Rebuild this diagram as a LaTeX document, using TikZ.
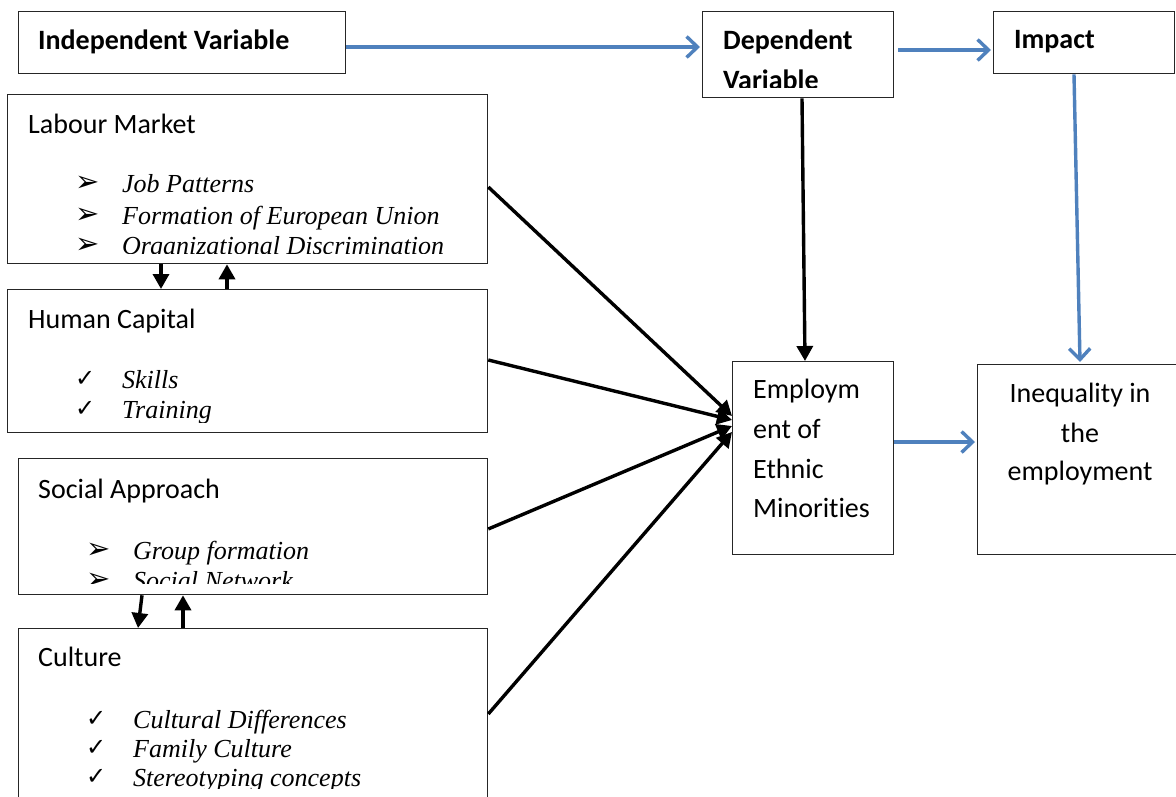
\documentclass[tikz,border=0pt]{standalone}
\usepackage{fontspec}
\setmainfont{Carlito}[Ligatures=NoCommon]
\newfontfamily\tms{Liberation Serif}
\newfontfamily\sym{DejaVu Sans}
\usetikzlibrary{arrows.meta}
\definecolor{arrblue}{HTML}{4F81BD}
\begin{document}
\begin{tikzpicture}[x=1pt,y=-1pt,
 box/.style={draw=black!85,line width=1.3pt,inner sep=0pt,anchor=north west},
 hd/.style={anchor=base west,inner sep=0pt,font=\fontsize{28}{34}\selectfont},
 hdb/.style={anchor=base west,inner sep=0pt,font=\fontsize{28}{34}\selectfont\bfseries},
 hdc/.style={anchor=base,inner sep=0pt,font=\fontsize{28}{34}\selectfont},
 itm/.style={anchor=base west,inner sep=0pt,font=\fontsize{26}{30}\selectfont\tms\itshape},
 arw/.style={anchor=base west,inner sep=0pt,font=\fontsize{29}{30}\selectfont\sym},
 chk/.style={anchor=base west,inner sep=0pt,font=\fontsize{24}{28}\selectfont\sym},
 blk/.style={line width=3.4pt,-{Triangle[length=15pt,width=16pt]}},
 blu/.style={draw=arrblue,line width=3.4pt,-{Straight Barb[length=11pt,width=21pt]}}]
\useasboundingbox (0,0) rectangle (1176,797);
\fill[white] (0,0) rectangle (1176,797);
\clip (0,0) rectangle (1176,797);

% boxes
\node[box,minimum width=327pt,minimum height=62pt] (ind) at (18,11) {};
\node[box,minimum width=191pt,minimum height=86pt] (dep) at (702,11) {};
\node[box,minimum width=181pt,minimum height=62pt] (imp) at (993,11) {};
\node[box,minimum width=480pt,minimum height=169pt] (lab) at (7,94) {};
\node[box,minimum width=480pt,minimum height=143pt] (hum) at (7,289) {};
\node[box,minimum width=469pt,minimum height=136pt] (soc) at (18,458) {};
\node[box,minimum width=469pt,minimum height=180pt] (cul) at (18,628) {};
\node[box,minimum width=161pt,minimum height=193pt] (emp) at (732,361) {};
\node[box,minimum width=210pt,minimum height=190pt] (ineq) at (977,364) {};

% header texts
\node[hdb] (tind) at (38,50) {Independent Variable};
\node[hdb] (timp) at (1014,49) {Impact};
\begin{scope}
\clip (dep.north west) rectangle (893,88);
\node[hdb] (tdep1) at (723,50) {Dependent};
\node[hdb] (tdep2) at (723,90) {Variable};
\end{scope}

% Labour market
\node[hd] (tlab) at (28,134) {Labour Market};
\begin{scope}
\clip (lab.north west) rectangle (487,253.5);
\node[arw] (a11) at (75,193) {\raisebox{1pt}{➢}};
\node[itm] (i11) at (122,193) {Job Patterns};
\node[arw] (a12) at (75,224) {\raisebox{1pt}{➢}};
\node[itm] (i12) at (122,224) {Formation of European Union};
\node[arw] (a13) at (75,254) {\raisebox{1pt}{➢}};
\node[itm] (i13) at (122,254) {Organizational Discrimination};
\end{scope}

% Human capital
\node[hd] (thum) at (28,328) {Human Capital};
\begin{scope}
\clip (hum.north west) rectangle (487,422);
\node[chk] (c21) at (75,388) {\raisebox{2pt}{✓}};
\node[itm] (i21) at (122,388) {Skills};
\node[chk] (c22) at (75,418) {\raisebox{2pt}{✓}};
\node[itm] (i22) at (122,418) {Training};
\end{scope}

% Social approach
\node[hd] (tsoc) at (38,498) {Social Approach};
\begin{scope}
\clip (soc.north west) rectangle (487,583);
\node[arw] (a31) at (86,559) {\raisebox{1pt}{➢}};
\node[itm] (i31) at (133,559) {Group formation};
\node[arw] (a32) at (86,589) {\raisebox{1pt}{➢}};
\node[itm] (i32) at (133,589) {Social Network};
\end{scope}

% Culture
\node[hd] (tcul) at (38,666) {Culture};
\begin{scope}
\clip (cul.north west) rectangle (487,788);
\node[chk] (c41) at (86,728) {\raisebox{2pt}{✓}};
\node[itm] (i41) at (133,728) {Cultural Differences};
\node[chk] (c42) at (86,757) {\raisebox{2pt}{✓}};
\node[itm] (i42) at (133,757) {Family Culture};
\node[chk] (c43) at (86,786) {\raisebox{2pt}{✓}};
\node[itm] (i43) at (133,786) {Stereotyping concepts};
\end{scope}

% Employment
\node[hd] (te1) at (753,398) {Employm};
\node[hd] (te2) at (753,438) {ent of};
\node[hd] (te3) at (753,478) {Ethnic};
\node[hd] (te4) at (753,517) {Minorities};

% Inequality
\node[hdc] (tq1) at (1080,402) {Inequality in};
\node[hdc] (tq2) at (1080,442) {the};
\node[hdc] (tq3) at (1080,480) {employment};

% blue arrows
\draw[blu] (ind.east |- 0,47) -- ([xshift=-2pt]dep.west |- 0,47);
\draw[blu] ([xshift=4pt]dep.east |- 0,50) -- ([xshift=-2pt]imp.west |- 0,50);
\draw[blu] (imp.south -| 1074,0) -- ([yshift=2pt]ineq.north -| 1080,0);
\draw[blu] (emp.east |- 0,442) -- ([xshift=-2pt]ineq.west |- 0,442);

% black arrows
\draw[blk] (dep.south -| 802,0) -- (emp.north -| 805,0);
\draw[blk] (lab.east |- 0,187) -- (emp.west |- 0,416);
\draw[blk] (hum.east |- 0,360) -- (emp.west |- 0,420);
\draw[blk] (soc.east |- 0,529) -- (emp.west |- 0,426);
\draw[blk] (cul.east |- 0,714) -- (emp.west |- 0,432);

\draw[blk] (lab.south -| 161,0) -- (hum.north -| 161,0);
\draw[blk] (hum.north -| 227,0) -- (lab.south -| 227,0);
\draw[blk] (soc.south -| 142,0) -- (cul.north -| 138,0);
\draw[blk] (cul.north -| 183,0) -- (soc.south -| 183,0);
\end{tikzpicture}
\end{document}
